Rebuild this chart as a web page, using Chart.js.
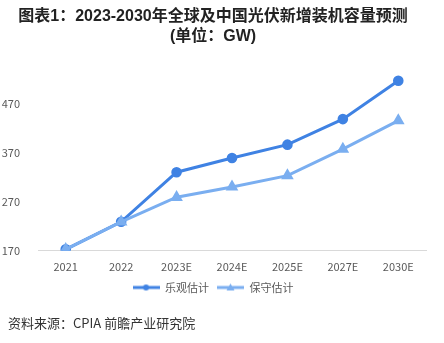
<!DOCTYPE html>
<html><head><meta charset="utf-8">
<script src="https://cdn.jsdelivr.net/npm/chart.js@4"></script>
<style>
html,body{margin:0;padding:0;background:#fff;}
#wrap{position:relative;width:444px;height:343px;}
#src{position:absolute;left:8px;top:313px;font-family:"Noto Sans CJK SC","Noto Sans",sans-serif;font-size:13px;color:#333;}
</style></head>
<body><div id="wrap"><canvas id="c" width="444" height="343"></canvas><div id="src">资料来源：CPIA 前瞻产业研究院</div></div>
<script>
const categories = ["2021","2022","2023E","2024E","2025E","2027E","2030E"];
const optimistic = [173,229,330,359,386,438,516];
const conservative = [173,229,279,300,323,377,435];
const yTicks = [170,270,370,470];
const seriesNames = ["乐观估计","保守估计"];

const dark = "#3f82e3", light = "#7aaef0";
function legendIcon(color, style){
  const cv = document.createElement('canvas'); cv.width = 27; cv.height = 10;
  const g = cv.getContext('2d');
  g.strokeStyle = color; g.lineWidth = 3; g.beginPath(); g.moveTo(0,5); g.lineTo(27,5); g.stroke();
  g.fillStyle = color; g.beginPath();
  if(style==='circle'){ g.arc(13.5,5,3,0,Math.PI*2); }
  else { g.moveTo(13.5,1); g.lineTo(17.5,8); g.lineTo(9.5,8); g.closePath(); }
  g.fill();
  return cv;
}
const icons = [legendIcon(dark,'circle'), legendIcon(light,'tri')];
const font = '"Noto Sans CJK SC","Noto Sans",sans-serif';
const titleFont = '"Liberation Sans","Noto Sans CJK SC",sans-serif';
new Chart(document.getElementById('c'), {
  type:'line',
  data:{labels:categories, datasets:[
    {label:seriesNames[0], data:optimistic, borderColor:dark, backgroundColor:dark, borderWidth:3, pointStyle:'circle', pointRadius:3.8, pointHoverRadius:3.8, tension:0},
    {label:seriesNames[1], data:conservative, borderColor:light, backgroundColor:light, borderWidth:3, pointStyle:'triangle', pointRadius:4.3, pointHoverRadius:4.3, tension:0}
  ].reverse()},
  options:{
    responsive:false, animation:false,
    layout:{padding:{left:0,right:18,top:0,bottom:40}},
    plugins:{
      title:{display:true, text:["图表1：2023-2030年全球及中国光伏新增装机容量预测","(单位：GW)"], color:'#222', font:{family:titleFont,size:16,weight:'bold',lineHeight:1.25}, padding:{top:7,bottom:22}},
      legend:{position:'bottom', labels:{usePointStyle:true, pointStyleWidth:27, color:'#595959', font:{family:font,size:11}, boxHeight:10, padding:8,
        generateLabels:(chart)=>seriesNames.map((n,i)=>({text:n, pointStyle:icons[i], fontColor:'#595959', datasetIndex:1-i, hidden:false, lineWidth:0, strokeStyle:'transparent', fillStyle:'transparent'}))
      }},
      tooltip:{enabled:false}
    },
    scales:{
      x:{offset:true, grid:{display:false}, border:{display:true,color:'#d9d9d9',width:1}, ticks:{color:'#595959', font:{family:font,size:11}, padding:1}},
      y:{min:170, max:540, grid:{display:false}, border:{display:false},
        afterBuildTicks:(ax)=>{ax.ticks = yTicks.map(v=>({value:v}));},
        afterFit:(ax)=>{ax.width = 38;},
        ticks:{color:'#595959', font:{family:font,size:11}, padding:10}}
    }
  }
});
</script></body></html>
